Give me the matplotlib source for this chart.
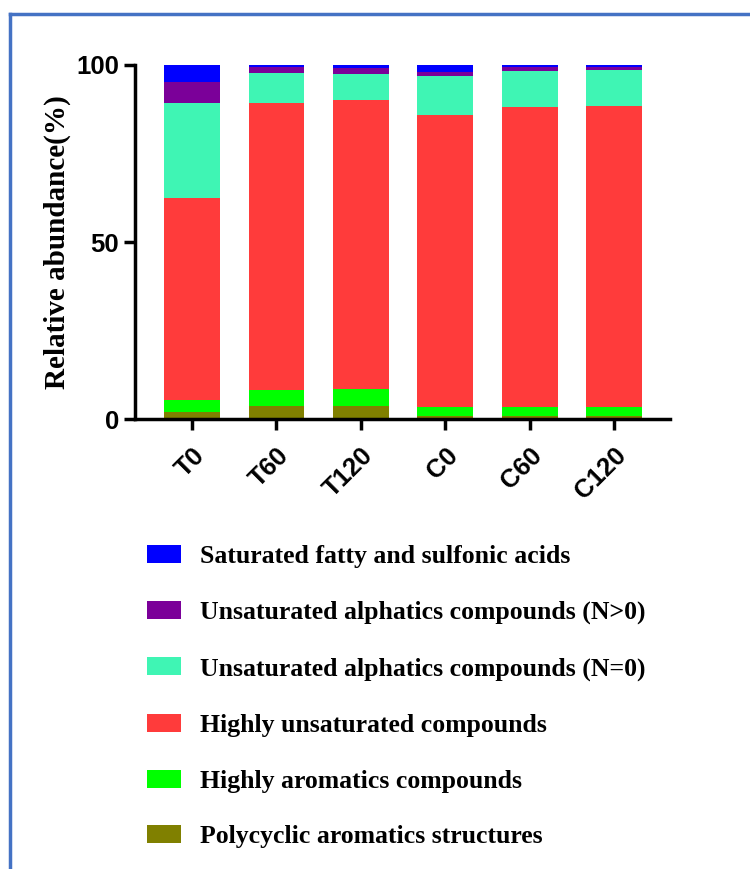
import matplotlib
matplotlib.use("Agg")
import matplotlib.pyplot as plt
from matplotlib.lines import Line2D
import numpy as np

samples = ["T0", "T60", "T120", "C0", "C60", "C120"]

# Stacked compound classes, bottom to top (relative abundance, %)
polycyclic = [2.0, 3.8, 3.9, 1.0, 1.0, 1.0]
highly_aromatic = [3.4, 4.6, 4.8, 2.6, 2.6, 2.6]
highly_unsaturated = [57.1, 80.8, 81.4, 82.3, 84.5, 84.9]
unsat_aliph_n0 = [26.7, 8.5, 7.4, 11.0, 10.2, 10.0]
unsat_aliph_ngt0 = [5.9, 1.6, 1.6, 1.1, 1.0, 1.0]
saturated_acids = [4.9, 0.7, 0.9, 2.0, 0.7, 0.5]

series = [
    ("Polycyclic aromatics structures", polycyclic, "#808000"),
    ("Highly aromatics compounds", highly_aromatic, "#00FF00"),
    ("Highly unsaturated compounds", highly_unsaturated, "#FF3B3B"),
    ("Unsaturated alphatics compounds (N=0)", unsat_aliph_n0, "#3FF5B4"),
    ("Unsaturated alphatics compounds (N>0)", unsat_aliph_ngt0, "#7B0099"),
    ("Saturated fatty and sulfonic acids", saturated_acids, "#0000FF"),
]

W, H = 750, 869
fig = plt.figure(figsize=(W / 100, H / 100), dpi=100)

# frame lines along the top and left edges
fig.add_artist(Line2D([10 / W, 10 / W], [0, 1 - 13.5 / H], transform=fig.transFigure,
                      color="#4472C4", lw=2.5))
fig.add_artist(Line2D([10 / W, 1], [1 - 13.5 / H, 1 - 13.5 / H], transform=fig.transFigure,
                      color="#4472C4", lw=2.5))

ax_l, ax_r, ax_t, ax_b = 135, 670, 65, 419.5
ax = fig.add_axes([ax_l / W, 1 - ax_b / H, (ax_r - ax_l) / W, (ax_b - ax_t) / H])

x = np.arange(len(samples))
bottom = np.zeros(len(samples))
handles = []
for label, vals, color in series:
    vals = np.array(vals)
    b = ax.bar(x, vals, width=0.66, bottom=bottom, color=color, label=label,
               edgecolor="none")
    bottom += vals
    handles.append(b)

ax.set_xlim(-0.675, 5.66)
ax.set_ylim(0, 100)
ax.set_yticks([0, 50, 100])
ax.set_xticks(x)
ax.set_xticklabels(samples, rotation=45, ha="right", va="top",
                   rotation_mode="anchor")
for spine in ["top", "right"]:
    ax.spines[spine].set_visible(False)
for spine in ["left", "bottom"]:
    ax.spines[spine].set_linewidth(2.5)
ax.tick_params(axis="both", width=2.5, length=8, labelsize=18.5)
ax.tick_params(axis="x", pad=9)
for t in ax.get_xticklabels() + ax.get_yticklabels():
    t.set_fontweight("bold")
    t.set_family("Liberation Sans")

ax.set_ylabel("Relative abundance(%)", fontsize=21, fontweight="bold",
              family="Liberation Serif")
ax.yaxis.set_label_coords((71 - ax_l) / (ax_r - ax_l), 0.5)

leg = fig.legend(handles[::-1], [s[0] for s in series][::-1],
                 loc="upper left", bbox_to_anchor=(124 / W, 1 - 522 / H),
                 frameon=False, handlelength=1.32, handleheight=0.7,
                 handletextpad=0.74, labelspacing=1.28,
                 prop={"family": "Liberation Serif", "weight": "bold", "size": 18.5})

fig.savefig("out.png", dpi=100)
